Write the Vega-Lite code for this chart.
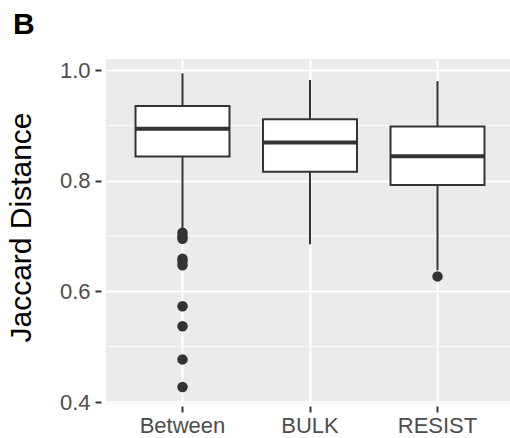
{
  "$schema": "https://vega.github.io/schema/vega-lite/v6.json",
  "width": 408,
  "height": 345,
  "autosize": "none",
  "padding": {"left": 106, "top": 59, "right": 0, "bottom": 34},
  "background": "white",
  "title": {"text": "B", "anchor": "start", "frame": "group", "dx": -93, "offset": -5, "baseline": "alphabetic", "fontSize": 30, "fontWeight": "bold", "font": "Liberation Sans", "color": "black"},
  "datasets": {
    "boxes": [
      {"group": "Between", "lower": 0.712, "q1": 0.8435, "median": 0.894, "q3": 0.935, "upper": 0.994},
      {"group": "BULK", "lower": 0.685, "q1": 0.816, "median": 0.869, "q3": 0.911, "upper": 0.982},
      {"group": "RESIST", "lower": 0.638, "q1": 0.792, "median": 0.844, "q3": 0.898, "upper": 0.980}
    ],
    "outliers": [
      {"group": "Between", "value": 0.706},
      {"group": "Between", "value": 0.699},
      {"group": "Between", "value": 0.695},
      {"group": "Between", "value": 0.659},
      {"group": "Between", "value": 0.654},
      {"group": "Between", "value": 0.647},
      {"group": "Between", "value": 0.573},
      {"group": "Between", "value": 0.537},
      {"group": "Between", "value": 0.477},
      {"group": "Between", "value": 0.427},
      {"group": "RESIST", "value": 0.627}
    ],
    "minor": [{"v": 0.5}, {"v": 0.7}, {"v": 0.9}]
  },
  "encoding": {
    "x": {
      "field": "group", "type": "nominal", "sort": ["Between", "BULK", "RESIST"],
      "scale": {"domain": ["Between", "BULK", "RESIST"], "paddingInner": 0.263, "paddingOuter": 0.2315},
      "axis": {"title": null, "labelAngle": 0, "labelFontSize": 22, "labelFont": "Liberation Sans", "labelColor": "#4D4D4D", "labelPadding": 3, "tickColor": "#333333", "tickWidth": 2, "tickSize": 6, "offset": 2, "domain": false, "grid": true, "gridColor": "white", "gridWidth": 2}
    }
  },
  "layer": [
    {
      "data": {"name": "minor"},
      "mark": {"type": "rule", "color": "white", "strokeWidth": 1},
      "encoding": {
        "x": null,
        "y": {"field": "v", "type": "quantitative"}
      }
    },
    {
      "data": {"name": "boxes"},
      "mark": {"type": "rule", "color": "#333333", "strokeWidth": 2},
      "encoding": {
        "y": {
          "field": "lower", "type": "quantitative",
          "scale": {"domain": [0.3964, 1.0199], "nice": false, "zero": false},
          "axis": {"title": "Jaccard Distance", "values": [0.4, 0.6, 0.8, 1.0], "format": ".1f", "labelFontSize": 22, "labelFont": "Liberation Sans", "labelColor": "#4D4D4D", "labelPadding": 5, "tickColor": "#333333", "tickWidth": 2, "tickSize": 6, "offset": 5, "domain": false, "grid": true, "gridColor": "white", "gridWidth": 2, "titleFont": "Liberation Sans", "titleFontSize": 30, "titleFontWeight": "normal", "titleColor": "black", "titleAngle": -90, "titleX": -71, "titleY": 168, "titleAlign": "center", "titleBaseline": "alphabetic"}
        },
        "y2": {"field": "upper"}
      }
    },
    {
      "data": {"name": "boxes"},
      "mark": {"type": "bar", "fill": "white", "stroke": "#333333", "strokeWidth": 2},
      "encoding": {
        "y": {"field": "q1", "type": "quantitative"},
        "y2": {"field": "q3"}
      }
    },
    {
      "data": {"name": "boxes"},
      "mark": {"type": "tick", "color": "#333333", "thickness": 4, "size": 94, "opacity": 1, "orient": "horizontal"},
      "encoding": {
        "y": {"field": "median", "type": "quantitative"}
      }
    },
    {
      "data": {"name": "outliers"},
      "mark": {"type": "circle", "color": "#333333", "size": 110, "opacity": 1},
      "encoding": {
        "y": {"field": "value", "type": "quantitative"}
      }
    }
  ],
  "config": {
    "view": {"fill": "#EBEBEB", "stroke": null}
  }
}
